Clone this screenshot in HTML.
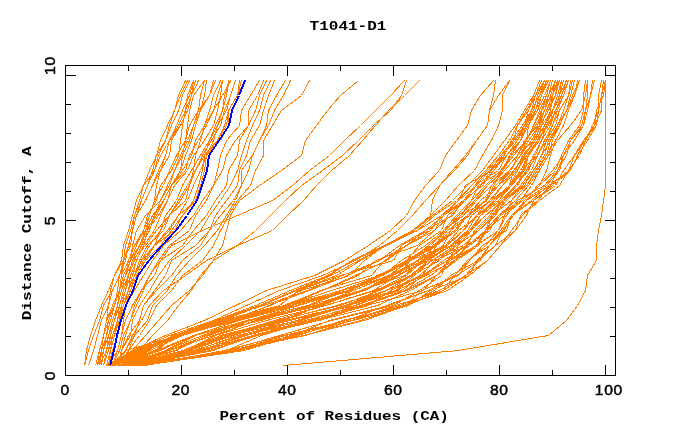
<!DOCTYPE html>
<html><head><meta charset="utf-8"><title>T1041-D1</title>
<style>
html,body{margin:0;padding:0;background:#fff;}
body{width:680px;height:440px;overflow:hidden;font-family:"Liberation Sans",sans-serif;}
svg{display:block;}
</style></head><body>
<svg width="680" height="440" viewBox="0 0 680 440">
<rect width="680" height="440" fill="#fff"/>
<g fill="none" stroke-linejoin="miter" stroke-linecap="butt" shape-rendering="crispEdges">
<polyline points="283.5,365.5 458.5,350.5 548.5,335.5 566.5,320.5 577.5,305.5 585.5,290.5 587.5,275.5 596.5,260.5 596.5,245.5 598.5,230.5 601.5,215.5 603.5,200.5 605.5,185.5 605.5,170.5 605.5,155.5 605.5,140.5 605.5,125.5 605.5,110.5 605.5,95.5 605.5,80.5" stroke="#ff8000" stroke-width="1"/>
<polyline points="119.5,365.5 149.5,350.5 182.5,335.5 233.5,320.5 292.5,305.5 340.5,290.5 382.5,275.5 401.5,260.5 425.5,245.5 443.5,230.5 456.5,215.5 471.5,200.5 485.5,185.5 500.5,170.5 511.5,155.5 520.5,140.5 528.5,125.5 535.5,110.5 541.5,95.5 548.5,80.5" stroke="#ff8000" stroke-width="1"/>
<polyline points="112.5,365.5 158.5,350.5 171.5,335.5 235.5,320.5 290.5,305.5 340.5,290.5 382.5,275.5 410.5,260.5 434.5,245.5 445.5,230.5 460.5,215.5 474.5,200.5 487.5,185.5 502.5,170.5 511.5,155.5 526.5,140.5 528.5,125.5 537.5,110.5 541.5,95.5 546.5,80.5" stroke="#ff8000" stroke-width="1"/>
<polyline points="119.5,365.5 145.5,350.5 180.5,335.5 224.5,320.5 285.5,305.5 331.5,290.5 379.5,275.5 410.5,260.5 436.5,245.5 443.5,230.5 463.5,215.5 476.5,200.5 487.5,185.5 504.5,170.5 517.5,155.5 533.5,140.5 537.5,125.5 541.5,110.5 546.5,95.5 550.5,80.5" stroke="#ff8000" stroke-width="1"/>
<polyline points="117.5,365.5 160.5,350.5 193.5,335.5 239.5,320.5 296.5,305.5 351.5,290.5 379.5,275.5 406.5,260.5 436.5,245.5 450.5,230.5 460.5,215.5 487.5,200.5 493.5,185.5 502.5,170.5 513.5,155.5 526.5,140.5 533.5,125.5 539.5,110.5 546.5,95.5 550.5,80.5" stroke="#ff8000" stroke-width="1"/>
<polyline points="121.5,365.5 156.5,350.5 193.5,335.5 239.5,320.5 290.5,305.5 353.5,290.5 390.5,275.5 408.5,260.5 428.5,245.5 445.5,230.5 458.5,215.5 476.5,200.5 491.5,185.5 504.5,170.5 517.5,155.5 524.5,140.5 537.5,125.5 544.5,110.5 548.5,95.5 552.5,80.5" stroke="#ff8000" stroke-width="1"/>
<polyline points="117.5,365.5 167.5,350.5 195.5,335.5 248.5,320.5 298.5,305.5 349.5,290.5 377.5,275.5 408.5,260.5 432.5,245.5 454.5,230.5 467.5,215.5 480.5,200.5 498.5,185.5 511.5,170.5 517.5,155.5 526.5,140.5 533.5,125.5 541.5,110.5 548.5,95.5 552.5,80.5" stroke="#ff8000" stroke-width="1"/>
<polyline points="119.5,365.5 165.5,350.5 195.5,335.5 246.5,320.5 307.5,305.5 342.5,290.5 390.5,275.5 417.5,260.5 436.5,245.5 447.5,230.5 467.5,215.5 480.5,200.5 498.5,185.5 509.5,170.5 520.5,155.5 526.5,140.5 535.5,125.5 544.5,110.5 548.5,95.5 555.5,80.5" stroke="#ff8000" stroke-width="1"/>
<polyline points="117.5,365.5 169.5,350.5 206.5,335.5 248.5,320.5 307.5,305.5 347.5,290.5 388.5,275.5 410.5,260.5 436.5,245.5 456.5,230.5 467.5,215.5 485.5,200.5 495.5,185.5 509.5,170.5 520.5,155.5 528.5,140.5 539.5,125.5 541.5,110.5 552.5,95.5 555.5,80.5" stroke="#ff8000" stroke-width="1"/>
<polyline points="119.5,365.5 158.5,350.5 193.5,335.5 261.5,320.5 309.5,305.5 360.5,290.5 397.5,275.5 428.5,260.5 436.5,245.5 456.5,230.5 467.5,215.5 485.5,200.5 491.5,185.5 509.5,170.5 520.5,155.5 531.5,140.5 539.5,125.5 544.5,110.5 550.5,95.5 555.5,80.5" stroke="#ff8000" stroke-width="1"/>
<polyline points="119.5,365.5 165.5,350.5 202.5,335.5 250.5,320.5 314.5,305.5 362.5,290.5 393.5,275.5 417.5,260.5 443.5,245.5 450.5,230.5 469.5,215.5 485.5,200.5 498.5,185.5 515.5,170.5 522.5,155.5 535.5,140.5 539.5,125.5 548.5,110.5 555.5,95.5 559.5,80.5" stroke="#ff8000" stroke-width="1"/>
<polyline points="119.5,365.5 174.5,350.5 209.5,335.5 250.5,320.5 316.5,305.5 353.5,290.5 388.5,275.5 419.5,260.5 434.5,245.5 456.5,230.5 467.5,215.5 491.5,200.5 502.5,185.5 517.5,170.5 524.5,155.5 535.5,140.5 544.5,125.5 550.5,110.5 552.5,95.5 559.5,80.5" stroke="#ff8000" stroke-width="1"/>
<polyline points="123.5,365.5 176.5,350.5 204.5,335.5 250.5,320.5 322.5,305.5 360.5,290.5 399.5,275.5 417.5,260.5 447.5,245.5 463.5,230.5 476.5,215.5 489.5,200.5 502.5,185.5 513.5,170.5 524.5,155.5 533.5,140.5 541.5,125.5 546.5,110.5 555.5,95.5 557.5,80.5" stroke="#ff8000" stroke-width="1"/>
<polyline points="121.5,365.5 167.5,350.5 213.5,335.5 255.5,320.5 318.5,305.5 364.5,290.5 397.5,275.5 410.5,260.5 445.5,245.5 463.5,230.5 471.5,215.5 491.5,200.5 509.5,185.5 522.5,170.5 528.5,155.5 537.5,140.5 541.5,125.5 546.5,110.5 552.5,95.5 557.5,80.5" stroke="#ff8000" stroke-width="1"/>
<polyline points="123.5,365.5 169.5,350.5 213.5,335.5 257.5,320.5 318.5,305.5 362.5,290.5 390.5,275.5 423.5,260.5 445.5,245.5 458.5,230.5 478.5,215.5 493.5,200.5 509.5,185.5 517.5,170.5 526.5,155.5 537.5,140.5 546.5,125.5 552.5,110.5 557.5,95.5 561.5,80.5" stroke="#ff8000" stroke-width="1"/>
<polyline points="123.5,365.5 185.5,350.5 215.5,335.5 266.5,320.5 325.5,305.5 373.5,290.5 397.5,275.5 425.5,260.5 450.5,245.5 467.5,230.5 476.5,215.5 498.5,200.5 511.5,185.5 522.5,170.5 526.5,155.5 537.5,140.5 541.5,125.5 552.5,110.5 559.5,95.5 561.5,80.5" stroke="#ff8000" stroke-width="1"/>
<polyline points="125.5,365.5 182.5,350.5 224.5,335.5 283.5,320.5 320.5,305.5 360.5,290.5 404.5,275.5 421.5,260.5 445.5,245.5 463.5,230.5 476.5,215.5 495.5,200.5 509.5,185.5 513.5,170.5 526.5,155.5 539.5,140.5 544.5,125.5 552.5,110.5 559.5,95.5 563.5,80.5" stroke="#ff8000" stroke-width="1"/>
<polyline points="130.5,365.5 182.5,350.5 220.5,335.5 279.5,320.5 336.5,305.5 386.5,290.5 412.5,275.5 428.5,260.5 447.5,245.5 463.5,230.5 476.5,215.5 495.5,200.5 509.5,185.5 520.5,170.5 528.5,155.5 537.5,140.5 546.5,125.5 552.5,110.5 559.5,95.5 561.5,80.5" stroke="#ff8000" stroke-width="1"/>
<polyline points="130.5,365.5 182.5,350.5 224.5,335.5 274.5,320.5 325.5,305.5 375.5,290.5 406.5,275.5 423.5,260.5 452.5,245.5 469.5,230.5 480.5,215.5 493.5,200.5 511.5,185.5 524.5,170.5 528.5,155.5 537.5,140.5 548.5,125.5 555.5,110.5 561.5,95.5 568.5,80.5" stroke="#ff8000" stroke-width="1"/>
<polyline points="130.5,365.5 189.5,350.5 233.5,335.5 276.5,320.5 340.5,305.5 379.5,290.5 412.5,275.5 439.5,260.5 456.5,245.5 469.5,230.5 480.5,215.5 495.5,200.5 511.5,185.5 520.5,170.5 528.5,155.5 539.5,140.5 544.5,125.5 552.5,110.5 559.5,95.5 566.5,80.5" stroke="#ff8000" stroke-width="1"/>
<polyline points="128.5,365.5 189.5,350.5 224.5,335.5 290.5,320.5 347.5,305.5 377.5,290.5 410.5,275.5 432.5,260.5 454.5,245.5 471.5,230.5 480.5,215.5 500.5,200.5 515.5,185.5 528.5,170.5 535.5,155.5 541.5,140.5 550.5,125.5 552.5,110.5 561.5,95.5 566.5,80.5" stroke="#ff8000" stroke-width="1"/>
<polyline points="132.5,365.5 187.5,350.5 230.5,335.5 285.5,320.5 355.5,305.5 386.5,290.5 410.5,275.5 428.5,260.5 450.5,245.5 469.5,230.5 485.5,215.5 502.5,200.5 517.5,185.5 526.5,170.5 533.5,155.5 541.5,140.5 546.5,125.5 557.5,110.5 563.5,95.5 568.5,80.5" stroke="#ff8000" stroke-width="1"/>
<polyline points="125.5,365.5 185.5,350.5 228.5,335.5 298.5,320.5 344.5,305.5 386.5,290.5 421.5,275.5 434.5,260.5 467.5,245.5 474.5,230.5 489.5,215.5 500.5,200.5 517.5,185.5 522.5,170.5 535.5,155.5 541.5,140.5 550.5,125.5 555.5,110.5 563.5,95.5 568.5,80.5" stroke="#ff8000" stroke-width="1"/>
<polyline points="128.5,365.5 195.5,350.5 237.5,335.5 298.5,320.5 349.5,305.5 386.5,290.5 423.5,275.5 447.5,260.5 458.5,245.5 471.5,230.5 485.5,215.5 504.5,200.5 515.5,185.5 526.5,170.5 537.5,155.5 544.5,140.5 552.5,125.5 557.5,110.5 563.5,95.5 568.5,80.5" stroke="#ff8000" stroke-width="1"/>
<polyline points="132.5,365.5 200.5,350.5 244.5,335.5 296.5,320.5 344.5,305.5 395.5,290.5 419.5,275.5 436.5,260.5 456.5,245.5 478.5,230.5 495.5,215.5 504.5,200.5 520.5,185.5 531.5,170.5 537.5,155.5 546.5,140.5 552.5,125.5 559.5,110.5 568.5,95.5 570.5,80.5" stroke="#ff8000" stroke-width="1"/>
<polyline points="132.5,365.5 200.5,350.5 246.5,335.5 285.5,320.5 347.5,305.5 395.5,290.5 414.5,275.5 430.5,260.5 463.5,245.5 478.5,230.5 493.5,215.5 506.5,200.5 522.5,185.5 533.5,170.5 541.5,155.5 546.5,140.5 555.5,125.5 559.5,110.5 568.5,95.5 572.5,80.5" stroke="#ff8000" stroke-width="1"/>
<polyline points="132.5,365.5 193.5,350.5 241.5,335.5 314.5,320.5 364.5,305.5 406.5,290.5 421.5,275.5 447.5,260.5 465.5,245.5 476.5,230.5 491.5,215.5 502.5,200.5 526.5,185.5 535.5,170.5 546.5,155.5 550.5,140.5 557.5,125.5 563.5,110.5 568.5,95.5 570.5,80.5" stroke="#ff8000" stroke-width="1"/>
<polyline points="132.5,365.5 198.5,350.5 246.5,335.5 301.5,320.5 347.5,305.5 401.5,290.5 423.5,275.5 443.5,260.5 467.5,245.5 487.5,230.5 491.5,215.5 502.5,200.5 524.5,185.5 533.5,170.5 544.5,155.5 548.5,140.5 557.5,125.5 566.5,110.5 570.5,95.5 574.5,80.5" stroke="#ff8000" stroke-width="1"/>
<polyline points="134.5,365.5 202.5,350.5 252.5,335.5 309.5,320.5 355.5,305.5 397.5,290.5 425.5,275.5 454.5,260.5 467.5,245.5 485.5,230.5 491.5,215.5 511.5,200.5 522.5,185.5 533.5,170.5 541.5,155.5 550.5,140.5 557.5,125.5 566.5,110.5 570.5,95.5 574.5,80.5" stroke="#ff8000" stroke-width="1"/>
<polyline points="139.5,365.5 226.5,350.5 261.5,335.5 312.5,320.5 368.5,305.5 390.5,290.5 423.5,275.5 447.5,260.5 463.5,245.5 478.5,230.5 493.5,215.5 502.5,200.5 522.5,185.5 533.5,170.5 541.5,155.5 550.5,140.5 559.5,125.5 566.5,110.5 572.5,95.5 579.5,80.5" stroke="#ff8000" stroke-width="1"/>
<polyline points="134.5,365.5 204.5,350.5 255.5,335.5 305.5,320.5 360.5,305.5 404.5,290.5 430.5,275.5 450.5,260.5 476.5,245.5 485.5,230.5 504.5,215.5 511.5,200.5 526.5,185.5 537.5,170.5 546.5,155.5 555.5,140.5 563.5,125.5 568.5,110.5 574.5,95.5 577.5,80.5" stroke="#ff8000" stroke-width="1"/>
<polyline points="134.5,365.5 209.5,350.5 257.5,335.5 312.5,320.5 362.5,305.5 406.5,290.5 436.5,275.5 450.5,260.5 469.5,245.5 489.5,230.5 498.5,215.5 520.5,200.5 531.5,185.5 539.5,170.5 548.5,155.5 552.5,140.5 559.5,125.5 566.5,110.5 574.5,95.5 579.5,80.5" stroke="#ff8000" stroke-width="1"/>
<polyline points="134.5,365.5 213.5,350.5 252.5,335.5 316.5,320.5 366.5,305.5 423.5,290.5 436.5,275.5 456.5,260.5 478.5,245.5 485.5,230.5 498.5,215.5 515.5,200.5 528.5,185.5 539.5,170.5 548.5,155.5 557.5,140.5 570.5,125.5 581.5,110.5 585.5,95.5 587.5,80.5" stroke="#ff8000" stroke-width="1"/>
<polyline points="139.5,365.5 211.5,350.5 255.5,335.5 318.5,320.5 377.5,305.5 410.5,290.5 436.5,275.5 454.5,260.5 476.5,245.5 498.5,230.5 504.5,215.5 522.5,200.5 539.5,185.5 546.5,170.5 550.5,155.5 555.5,140.5 563.5,125.5 568.5,110.5 574.5,95.5 579.5,80.5" stroke="#ff8000" stroke-width="1"/>
<polyline points="141.5,365.5 228.5,350.5 279.5,335.5 331.5,320.5 393.5,305.5 419.5,290.5 441.5,275.5 447.5,260.5 476.5,245.5 487.5,230.5 500.5,215.5 522.5,200.5 539.5,185.5 555.5,170.5 561.5,155.5 568.5,140.5 579.5,125.5 583.5,110.5 583.5,95.5 585.5,80.5" stroke="#ff8000" stroke-width="1"/>
<polyline points="136.5,365.5 230.5,350.5 292.5,335.5 329.5,320.5 388.5,305.5 428.5,290.5 454.5,275.5 469.5,260.5 485.5,245.5 498.5,230.5 506.5,215.5 517.5,200.5 544.5,185.5 557.5,170.5 563.5,155.5 574.5,140.5 583.5,125.5 585.5,110.5 587.5,95.5 587.5,80.5" stroke="#ff8000" stroke-width="1"/>
<polyline points="145.5,365.5 224.5,350.5 283.5,335.5 347.5,320.5 386.5,305.5 428.5,290.5 456.5,275.5 480.5,260.5 489.5,245.5 500.5,230.5 511.5,215.5 526.5,200.5 537.5,185.5 552.5,170.5 563.5,155.5 570.5,140.5 583.5,125.5 587.5,110.5 590.5,95.5 594.5,80.5" stroke="#ff8000" stroke-width="1"/>
<polyline points="143.5,365.5 244.5,350.5 294.5,335.5 351.5,320.5 395.5,305.5 443.5,290.5 454.5,275.5 467.5,260.5 489.5,245.5 502.5,230.5 513.5,215.5 524.5,200.5 546.5,185.5 559.5,170.5 563.5,155.5 570.5,140.5 583.5,125.5 585.5,110.5 590.5,95.5 592.5,80.5" stroke="#ff8000" stroke-width="1"/>
<polyline points="139.5,365.5 239.5,350.5 290.5,335.5 344.5,320.5 406.5,305.5 421.5,290.5 458.5,275.5 469.5,260.5 482.5,245.5 506.5,230.5 511.5,215.5 533.5,200.5 552.5,185.5 570.5,170.5 577.5,155.5 587.5,140.5 596.5,125.5 598.5,110.5 601.5,95.5 603.5,80.5" stroke="#ff8000" stroke-width="1"/>
<polyline points="143.5,365.5 230.5,350.5 305.5,335.5 351.5,320.5 399.5,305.5 439.5,290.5 465.5,275.5 478.5,260.5 495.5,245.5 502.5,230.5 513.5,215.5 526.5,200.5 550.5,185.5 557.5,170.5 566.5,155.5 570.5,140.5 581.5,125.5 585.5,110.5 590.5,95.5 592.5,80.5" stroke="#ff8000" stroke-width="1"/>
<polyline points="141.5,365.5 233.5,350.5 285.5,335.5 353.5,320.5 408.5,305.5 430.5,290.5 469.5,275.5 476.5,260.5 495.5,245.5 515.5,230.5 520.5,215.5 537.5,200.5 550.5,185.5 568.5,170.5 574.5,155.5 585.5,140.5 592.5,125.5 598.5,110.5 598.5,95.5 601.5,80.5" stroke="#ff8000" stroke-width="1"/>
<polyline points="145.5,365.5 235.5,350.5 298.5,335.5 342.5,320.5 404.5,305.5 434.5,290.5 450.5,275.5 478.5,260.5 489.5,245.5 504.5,230.5 511.5,215.5 531.5,200.5 548.5,185.5 570.5,170.5 577.5,155.5 583.5,140.5 594.5,125.5 601.5,110.5 601.5,95.5 605.5,80.5" stroke="#ff8000" stroke-width="1"/>
<polyline points="143.5,365.5 233.5,350.5 303.5,335.5 364.5,320.5 406.5,305.5 443.5,290.5 465.5,275.5 487.5,260.5 500.5,245.5 515.5,230.5 526.5,215.5 533.5,200.5 555.5,185.5 563.5,170.5 574.5,155.5 583.5,140.5 596.5,125.5 598.5,110.5 601.5,95.5 603.5,80.5" stroke="#ff8000" stroke-width="1"/>
<polyline points="143.5,365.5 237.5,350.5 303.5,335.5 360.5,320.5 404.5,305.5 447.5,290.5 469.5,275.5 487.5,260.5 500.5,245.5 511.5,230.5 522.5,215.5 539.5,200.5 559.5,185.5 568.5,170.5 579.5,155.5 585.5,140.5 594.5,125.5 596.5,110.5 603.5,95.5 605.5,80.5" stroke="#ff8000" stroke-width="1"/>
<polyline points="108.5,365.5 134.5,350.5 176.5,335.5 228.5,320.5 270.5,305.5 301.5,290.5 349.5,275.5 364.5,260.5 384.5,245.5 417.5,230.5 441.5,215.5 458.5,200.5 465.5,185.5 491.5,170.5 500.5,155.5 513.5,140.5 524.5,125.5 528.5,110.5 535.5,95.5 541.5,80.5" stroke="#ff8000" stroke-width="1"/>
<polyline points="110.5,365.5 125.5,350.5 178.5,335.5 215.5,320.5 263.5,305.5 307.5,290.5 342.5,275.5 379.5,260.5 406.5,245.5 434.5,230.5 443.5,215.5 465.5,200.5 474.5,185.5 487.5,170.5 504.5,155.5 511.5,140.5 522.5,125.5 531.5,110.5 539.5,95.5 544.5,80.5" stroke="#ff8000" stroke-width="1"/>
<polyline points="114.5,365.5 147.5,350.5 176.5,335.5 233.5,320.5 268.5,305.5 309.5,290.5 347.5,275.5 379.5,260.5 399.5,245.5 425.5,230.5 443.5,215.5 458.5,200.5 471.5,185.5 485.5,170.5 502.5,155.5 513.5,140.5 517.5,125.5 528.5,110.5 533.5,95.5 539.5,80.5" stroke="#ff8000" stroke-width="1"/>
<polyline points="112.5,365.5 156.5,350.5 176.5,335.5 222.5,320.5 279.5,305.5 298.5,290.5 340.5,275.5 393.5,260.5 401.5,245.5 428.5,230.5 443.5,215.5 458.5,200.5 476.5,185.5 489.5,170.5 506.5,155.5 517.5,140.5 524.5,125.5 531.5,110.5 535.5,95.5 544.5,80.5" stroke="#ff8000" stroke-width="1"/>
<polyline points="112.5,365.5 139.5,350.5 176.5,335.5 239.5,320.5 285.5,305.5 320.5,290.5 371.5,275.5 384.5,260.5 406.5,245.5 425.5,230.5 452.5,215.5 463.5,200.5 476.5,185.5 489.5,170.5 502.5,155.5 515.5,140.5 524.5,125.5 533.5,110.5 537.5,95.5 544.5,80.5" stroke="#ff8000" stroke-width="1"/>
<polyline points="114.5,365.5 154.5,350.5 178.5,335.5 226.5,320.5 283.5,305.5 322.5,290.5 355.5,275.5 386.5,260.5 406.5,245.5 430.5,230.5 441.5,215.5 463.5,200.5 482.5,185.5 493.5,170.5 506.5,155.5 517.5,140.5 526.5,125.5 535.5,110.5 539.5,95.5 546.5,80.5" stroke="#ff8000" stroke-width="1"/>
<polyline points="112.5,365.5 143.5,350.5 182.5,335.5 230.5,320.5 287.5,305.5 322.5,290.5 358.5,275.5 375.5,260.5 417.5,245.5 434.5,230.5 450.5,215.5 465.5,200.5 474.5,185.5 498.5,170.5 506.5,155.5 520.5,140.5 526.5,125.5 535.5,110.5 539.5,95.5 548.5,80.5" stroke="#ff8000" stroke-width="1"/>
<polyline points="114.5,365.5 143.5,350.5 176.5,335.5 226.5,320.5 285.5,305.5 342.5,290.5 379.5,275.5 406.5,260.5 419.5,245.5 441.5,230.5 447.5,215.5 465.5,200.5 480.5,185.5 491.5,170.5 506.5,155.5 520.5,140.5 524.5,125.5 535.5,110.5 541.5,95.5 546.5,80.5" stroke="#ff8000" stroke-width="1"/>
<polyline points="110.5,365.5 141.5,350.5 176.5,335.5 226.5,320.5 290.5,305.5 347.5,290.5 382.5,275.5 406.5,260.5 430.5,245.5 445.5,230.5 460.5,215.5 471.5,200.5 478.5,185.5 502.5,170.5 509.5,155.5 520.5,140.5 528.5,125.5 537.5,110.5 544.5,95.5 550.5,80.5" stroke="#ff8000" stroke-width="1"/>
<polyline points="106.5,365.5 132.5,350.5 165.5,335.5 204.5,320.5 235.5,305.5 266.5,290.5 314.5,275.5 344.5,260.5 368.5,245.5 390.5,230.5 406.5,215.5 414.5,200.5 425.5,185.5 439.5,170.5 445.5,155.5 456.5,140.5 467.5,125.5 471.5,110.5 480.5,95.5 493.5,80.5" stroke="#ff8000" stroke-width="1"/>
<polyline points="106.5,365.5 134.5,350.5 169.5,335.5 213.5,320.5 246.5,305.5 279.5,290.5 322.5,275.5 355.5,260.5 379.5,245.5 397.5,230.5 412.5,215.5 425.5,200.5 439.5,185.5 454.5,170.5 467.5,155.5 476.5,140.5 487.5,125.5 489.5,110.5 498.5,95.5 509.5,80.5" stroke="#ff8000" stroke-width="1"/>
<polyline points="108.5,365.5 136.5,350.5 174.5,335.5 215.5,320.5 255.5,305.5 290.5,290.5 327.5,275.5 353.5,260.5 386.5,245.5 414.5,230.5 430.5,215.5 432.5,200.5 439.5,185.5 452.5,170.5 465.5,155.5 476.5,140.5 487.5,125.5 489.5,110.5 493.5,95.5 495.5,80.5" stroke="#ff8000" stroke-width="1"/>
<polyline points="108.5,365.5 136.5,350.5 176.5,335.5 217.5,320.5 259.5,305.5 294.5,290.5 329.5,275.5 351.5,260.5 384.5,245.5 412.5,230.5 430.5,215.5 445.5,200.5 458.5,185.5 474.5,170.5 482.5,155.5 491.5,140.5 498.5,125.5 502.5,110.5 502.5,95.5 509.5,80.5" stroke="#ff8000" stroke-width="1"/>
<polyline points="108.5,365.5 139.5,350.5 176.5,335.5 220.5,320.5 259.5,305.5 294.5,290.5 331.5,275.5 358.5,260.5 386.5,245.5 414.5,230.5 432.5,215.5 452.5,200.5 467.5,185.5 482.5,170.5 493.5,155.5 504.5,140.5 515.5,125.5 524.5,110.5 533.5,95.5 539.5,80.5" stroke="#ff8000" stroke-width="1"/>
<polyline points="110.5,365.5 139.5,350.5 178.5,335.5 222.5,320.5 261.5,305.5 296.5,290.5 336.5,275.5 360.5,260.5 386.5,245.5 417.5,230.5 434.5,215.5 456.5,200.5 471.5,185.5 485.5,170.5 498.5,155.5 509.5,140.5 517.5,125.5 526.5,110.5 535.5,95.5 541.5,80.5" stroke="#ff8000" stroke-width="1"/>
<polyline points="97.5,365.5 99.5,350.5 103.5,335.5 106.5,320.5 108.5,305.5 110.5,290.5 114.5,275.5 123.5,260.5 125.5,245.5 130.5,230.5 134.5,215.5 139.5,200.5 143.5,185.5 154.5,170.5 160.5,155.5 169.5,140.5 180.5,125.5 187.5,110.5 191.5,95.5 193.5,80.5" stroke="#ff8000" stroke-width="1"/>
<polyline points="97.5,365.5 103.5,350.5 106.5,335.5 108.5,320.5 114.5,305.5 119.5,290.5 121.5,275.5 123.5,260.5 130.5,245.5 132.5,230.5 136.5,215.5 141.5,200.5 147.5,185.5 152.5,170.5 156.5,155.5 165.5,140.5 169.5,125.5 174.5,110.5 180.5,95.5 187.5,80.5" stroke="#ff8000" stroke-width="1"/>
<polyline points="97.5,365.5 101.5,350.5 103.5,335.5 106.5,320.5 114.5,305.5 117.5,290.5 119.5,275.5 125.5,260.5 128.5,245.5 132.5,230.5 136.5,215.5 145.5,200.5 152.5,185.5 160.5,170.5 169.5,155.5 171.5,140.5 180.5,125.5 187.5,110.5 191.5,95.5 198.5,80.5" stroke="#ff8000" stroke-width="1"/>
<polyline points="95.5,365.5 99.5,350.5 103.5,335.5 106.5,320.5 112.5,305.5 119.5,290.5 121.5,275.5 128.5,260.5 134.5,245.5 143.5,230.5 149.5,215.5 154.5,200.5 156.5,185.5 160.5,170.5 165.5,155.5 169.5,140.5 178.5,125.5 185.5,110.5 191.5,95.5 195.5,80.5" stroke="#ff8000" stroke-width="1"/>
<polyline points="97.5,365.5 99.5,350.5 103.5,335.5 108.5,320.5 114.5,305.5 119.5,290.5 125.5,275.5 130.5,260.5 136.5,245.5 143.5,230.5 147.5,215.5 156.5,200.5 160.5,185.5 171.5,170.5 178.5,155.5 180.5,140.5 182.5,125.5 185.5,110.5 187.5,95.5 193.5,80.5" stroke="#ff8000" stroke-width="1"/>
<polyline points="97.5,365.5 101.5,350.5 106.5,335.5 110.5,320.5 114.5,305.5 119.5,290.5 125.5,275.5 128.5,260.5 134.5,245.5 145.5,230.5 149.5,215.5 154.5,200.5 163.5,185.5 169.5,170.5 176.5,155.5 185.5,140.5 189.5,125.5 198.5,110.5 200.5,95.5 204.5,80.5" stroke="#ff8000" stroke-width="1"/>
<polyline points="99.5,365.5 106.5,350.5 108.5,335.5 114.5,320.5 117.5,305.5 119.5,290.5 123.5,275.5 130.5,260.5 132.5,245.5 136.5,230.5 145.5,215.5 160.5,200.5 169.5,185.5 174.5,170.5 182.5,155.5 185.5,140.5 187.5,125.5 189.5,110.5 193.5,95.5 204.5,80.5" stroke="#ff8000" stroke-width="1"/>
<polyline points="99.5,365.5 101.5,350.5 106.5,335.5 110.5,320.5 114.5,305.5 119.5,290.5 123.5,275.5 130.5,260.5 139.5,245.5 145.5,230.5 152.5,215.5 163.5,200.5 171.5,185.5 180.5,170.5 185.5,155.5 191.5,140.5 195.5,125.5 200.5,110.5 204.5,95.5 206.5,80.5" stroke="#ff8000" stroke-width="1"/>
<polyline points="101.5,365.5 103.5,350.5 108.5,335.5 112.5,320.5 117.5,305.5 121.5,290.5 125.5,275.5 134.5,260.5 141.5,245.5 149.5,230.5 154.5,215.5 160.5,200.5 167.5,185.5 174.5,170.5 180.5,155.5 187.5,140.5 193.5,125.5 200.5,110.5 209.5,95.5 215.5,80.5" stroke="#ff8000" stroke-width="1"/>
<polyline points="103.5,365.5 108.5,350.5 110.5,335.5 114.5,320.5 117.5,305.5 121.5,290.5 128.5,275.5 132.5,260.5 139.5,245.5 147.5,230.5 154.5,215.5 163.5,200.5 171.5,185.5 180.5,170.5 182.5,155.5 189.5,140.5 193.5,125.5 198.5,110.5 209.5,95.5 213.5,80.5" stroke="#ff8000" stroke-width="1"/>
<polyline points="103.5,365.5 106.5,350.5 110.5,335.5 114.5,320.5 119.5,305.5 123.5,290.5 128.5,275.5 134.5,260.5 141.5,245.5 145.5,230.5 156.5,215.5 163.5,200.5 171.5,185.5 185.5,170.5 189.5,155.5 198.5,140.5 206.5,125.5 213.5,110.5 217.5,95.5 222.5,80.5" stroke="#ff8000" stroke-width="1"/>
<polyline points="106.5,365.5 110.5,350.5 112.5,335.5 117.5,320.5 119.5,305.5 125.5,290.5 130.5,275.5 136.5,260.5 143.5,245.5 147.5,230.5 158.5,215.5 167.5,200.5 171.5,185.5 182.5,170.5 191.5,155.5 195.5,140.5 204.5,125.5 209.5,110.5 213.5,95.5 220.5,80.5" stroke="#ff8000" stroke-width="1"/>
<polyline points="103.5,365.5 108.5,350.5 112.5,335.5 119.5,320.5 123.5,305.5 128.5,290.5 132.5,275.5 136.5,260.5 143.5,245.5 154.5,230.5 160.5,215.5 167.5,200.5 174.5,185.5 187.5,170.5 193.5,155.5 204.5,140.5 213.5,125.5 217.5,110.5 220.5,95.5 222.5,80.5" stroke="#ff8000" stroke-width="1"/>
<polyline points="106.5,365.5 110.5,350.5 114.5,335.5 117.5,320.5 121.5,305.5 125.5,290.5 128.5,275.5 132.5,260.5 145.5,245.5 156.5,230.5 169.5,215.5 185.5,200.5 189.5,185.5 193.5,170.5 195.5,155.5 200.5,140.5 204.5,125.5 213.5,110.5 222.5,95.5 230.5,80.5" stroke="#ff8000" stroke-width="1"/>
<polyline points="106.5,365.5 110.5,350.5 112.5,335.5 117.5,320.5 123.5,305.5 128.5,290.5 134.5,275.5 141.5,260.5 149.5,245.5 160.5,230.5 165.5,215.5 176.5,200.5 182.5,185.5 191.5,170.5 200.5,155.5 209.5,140.5 215.5,125.5 222.5,110.5 224.5,95.5 230.5,80.5" stroke="#ff8000" stroke-width="1"/>
<polyline points="106.5,365.5 110.5,350.5 114.5,335.5 119.5,320.5 121.5,305.5 128.5,290.5 134.5,275.5 139.5,260.5 147.5,245.5 163.5,230.5 169.5,215.5 178.5,200.5 187.5,185.5 195.5,170.5 204.5,155.5 209.5,140.5 217.5,125.5 222.5,110.5 226.5,95.5 228.5,80.5" stroke="#ff8000" stroke-width="1"/>
<polyline points="106.5,365.5 110.5,350.5 114.5,335.5 119.5,320.5 123.5,305.5 128.5,290.5 134.5,275.5 141.5,260.5 154.5,245.5 160.5,230.5 169.5,215.5 180.5,200.5 189.5,185.5 195.5,170.5 202.5,155.5 211.5,140.5 220.5,125.5 224.5,110.5 230.5,95.5 235.5,80.5" stroke="#ff8000" stroke-width="1"/>
<polyline points="108.5,365.5 110.5,350.5 114.5,335.5 119.5,320.5 123.5,305.5 130.5,290.5 134.5,275.5 143.5,260.5 154.5,245.5 167.5,230.5 178.5,215.5 187.5,200.5 193.5,185.5 200.5,170.5 206.5,155.5 213.5,140.5 217.5,125.5 226.5,110.5 230.5,95.5 235.5,80.5" stroke="#ff8000" stroke-width="1"/>
<polyline points="108.5,365.5 110.5,350.5 114.5,335.5 117.5,320.5 121.5,305.5 128.5,290.5 130.5,275.5 145.5,260.5 154.5,245.5 174.5,230.5 182.5,215.5 195.5,200.5 200.5,185.5 204.5,170.5 206.5,155.5 217.5,140.5 226.5,125.5 228.5,110.5 237.5,95.5 239.5,80.5" stroke="#ff8000" stroke-width="1"/>
<polyline points="108.5,365.5 110.5,350.5 114.5,335.5 119.5,320.5 125.5,305.5 130.5,290.5 136.5,275.5 145.5,260.5 160.5,245.5 171.5,230.5 182.5,215.5 193.5,200.5 198.5,185.5 202.5,170.5 204.5,155.5 217.5,140.5 224.5,125.5 228.5,110.5 237.5,95.5 241.5,80.5" stroke="#ff8000" stroke-width="1"/>
<polyline points="108.5,365.5 112.5,350.5 117.5,335.5 119.5,320.5 125.5,305.5 130.5,290.5 136.5,275.5 145.5,260.5 154.5,245.5 169.5,230.5 178.5,215.5 195.5,200.5 200.5,185.5 204.5,170.5 206.5,155.5 220.5,140.5 228.5,125.5 228.5,110.5 237.5,95.5 244.5,80.5" stroke="#ff8000" stroke-width="1"/>
<polyline points="84.5,365.5 86.5,350.5 90.5,335.5 95.5,320.5 101.5,305.5 108.5,290.5 114.5,275.5 121.5,260.5 123.5,245.5 128.5,230.5 132.5,215.5 136.5,200.5 143.5,185.5 149.5,170.5 156.5,155.5 160.5,140.5 167.5,125.5 174.5,110.5 178.5,95.5 185.5,80.5" stroke="#ff8000" stroke-width="1"/>
<polyline points="84.5,365.5 88.5,350.5 93.5,335.5 99.5,320.5 103.5,305.5 112.5,290.5 119.5,275.5 123.5,260.5 128.5,245.5 132.5,230.5 134.5,215.5 141.5,200.5 147.5,185.5 154.5,170.5 158.5,155.5 165.5,140.5 171.5,125.5 178.5,110.5 182.5,95.5 189.5,80.5" stroke="#ff8000" stroke-width="1"/>
<polyline points="88.5,365.5 93.5,350.5 97.5,335.5 101.5,320.5 108.5,305.5 112.5,290.5 119.5,275.5 123.5,260.5 128.5,245.5 132.5,230.5 136.5,215.5 145.5,200.5 152.5,185.5 158.5,170.5 165.5,155.5 169.5,140.5 176.5,125.5 182.5,110.5 189.5,95.5 193.5,80.5" stroke="#ff8000" stroke-width="1"/>
<polyline points="108.5,365.5 117.5,350.5 121.5,335.5 123.5,320.5 125.5,305.5 134.5,290.5 143.5,275.5 152.5,260.5 163.5,245.5 180.5,230.5 193.5,215.5 202.5,200.5 213.5,185.5 217.5,170.5 220.5,155.5 226.5,140.5 239.5,125.5 241.5,110.5 250.5,95.5 259.5,80.5" stroke="#ff8000" stroke-width="1"/>
<polyline points="112.5,365.5 117.5,350.5 121.5,335.5 125.5,320.5 132.5,305.5 141.5,290.5 149.5,275.5 158.5,260.5 169.5,245.5 189.5,230.5 195.5,215.5 206.5,200.5 213.5,185.5 222.5,170.5 226.5,155.5 235.5,140.5 248.5,125.5 248.5,110.5 257.5,95.5 263.5,80.5" stroke="#ff8000" stroke-width="1"/>
<polyline points="112.5,365.5 119.5,350.5 123.5,335.5 130.5,320.5 134.5,305.5 141.5,290.5 154.5,275.5 160.5,260.5 182.5,245.5 193.5,230.5 206.5,215.5 215.5,200.5 226.5,185.5 228.5,170.5 237.5,155.5 239.5,140.5 248.5,125.5 255.5,110.5 259.5,95.5 266.5,80.5" stroke="#ff8000" stroke-width="1"/>
<polyline points="117.5,365.5 121.5,350.5 130.5,335.5 132.5,320.5 139.5,305.5 149.5,290.5 158.5,275.5 169.5,260.5 185.5,245.5 200.5,230.5 209.5,215.5 220.5,200.5 230.5,185.5 237.5,170.5 241.5,155.5 246.5,140.5 252.5,125.5 259.5,110.5 263.5,95.5 270.5,80.5" stroke="#ff8000" stroke-width="1"/>
<polyline points="119.5,365.5 121.5,350.5 128.5,335.5 139.5,320.5 143.5,305.5 154.5,290.5 165.5,275.5 171.5,260.5 195.5,245.5 209.5,230.5 215.5,215.5 226.5,200.5 237.5,185.5 239.5,170.5 246.5,155.5 250.5,140.5 259.5,125.5 263.5,110.5 268.5,95.5 274.5,80.5" stroke="#ff8000" stroke-width="1"/>
<polyline points="114.5,365.5 125.5,350.5 134.5,335.5 139.5,320.5 143.5,305.5 156.5,290.5 171.5,275.5 182.5,260.5 200.5,245.5 209.5,230.5 220.5,215.5 233.5,200.5 241.5,185.5 241.5,170.5 252.5,155.5 259.5,140.5 266.5,125.5 268.5,110.5 276.5,95.5 285.5,80.5" stroke="#ff8000" stroke-width="1"/>
<polyline points="121.5,365.5 128.5,350.5 134.5,335.5 147.5,320.5 152.5,305.5 167.5,290.5 176.5,275.5 189.5,260.5 204.5,245.5 217.5,230.5 226.5,215.5 235.5,200.5 241.5,185.5 248.5,170.5 252.5,155.5 259.5,140.5 268.5,125.5 274.5,110.5 283.5,95.5 290.5,80.5" stroke="#ff8000" stroke-width="1"/>
<polyline points="117.5,365.5 128.5,350.5 139.5,335.5 149.5,320.5 156.5,305.5 171.5,290.5 182.5,275.5 202.5,260.5 213.5,245.5 220.5,230.5 228.5,215.5 237.5,200.5 250.5,185.5 255.5,170.5 263.5,155.5 263.5,140.5 272.5,125.5 281.5,110.5 301.5,95.5 309.5,80.5" stroke="#ff8000" stroke-width="1"/>
<polyline points="121.5,365.5 132.5,350.5 145.5,335.5 158.5,320.5 171.5,305.5 189.5,290.5 202.5,275.5 213.5,260.5 222.5,245.5 226.5,230.5 230.5,215.5 239.5,200.5 259.5,185.5 281.5,170.5 301.5,155.5 305.5,140.5 316.5,125.5 327.5,110.5 340.5,95.5 358.5,80.5" stroke="#ff8000" stroke-width="1"/>
<polyline points="117.5,365.5 121.5,350.5 125.5,335.5 130.5,320.5 136.5,305.5 143.5,290.5 149.5,275.5 160.5,260.5 171.5,245.5 202.5,230.5 237.5,215.5 272.5,200.5 292.5,185.5 309.5,170.5 329.5,155.5 344.5,140.5 360.5,125.5 375.5,110.5 390.5,95.5 404.5,80.5" stroke="#ff8000" stroke-width="1"/>
<polyline points="119.5,365.5 125.5,350.5 132.5,335.5 141.5,320.5 149.5,305.5 163.5,290.5 185.5,275.5 206.5,260.5 237.5,245.5 255.5,230.5 270.5,215.5 285.5,200.5 301.5,185.5 322.5,170.5 342.5,155.5 358.5,140.5 373.5,125.5 390.5,110.5 401.5,95.5 406.5,80.5" stroke="#ff8000" stroke-width="1"/>
<polyline points="125.5,365.5 139.5,350.5 152.5,335.5 167.5,320.5 178.5,305.5 191.5,290.5 200.5,275.5 213.5,260.5 237.5,245.5 272.5,230.5 287.5,215.5 303.5,200.5 316.5,185.5 331.5,170.5 349.5,155.5 362.5,140.5 375.5,125.5 388.5,110.5 404.5,95.5 419.5,80.5" stroke="#ff8000" stroke-width="1"/>
</g>
<polyline points="109.5,365.5 113.5,350.5 116.5,335.5 120.5,320.5 125.5,305.5 132.5,290.5 137.5,275.5 148.5,260.5 161.5,245.5 175.5,230.5 186.5,215.5 196.5,200.5 201.5,185.5 206.5,170.5 208.5,155.5 218.5,140.5 228.5,125.5 231.5,110.5 238.5,95.5 244.5,80.5" fill="none" stroke="#0000ff" stroke-width="1" shape-rendering="crispEdges"/>
<polyline points="110.5,365.5 114.5,350.5 117.5,335.5 121.5,320.5 126.5,305.5 133.5,290.5 138.5,275.5 149.5,260.5 162.5,245.5 176.5,230.5 187.5,215.5 197.5,200.5 202.5,185.5 207.5,170.5 209.5,155.5 219.5,140.5 229.5,125.5 232.5,110.5 239.5,95.5 245.5,80.5" fill="none" stroke="#0000ff" stroke-width="1" shape-rendering="crispEdges"/>
<g stroke="#000" stroke-width="1" fill="none" shape-rendering="crispEdges">
<rect x="65.5" y="65.5" width="550" height="310"/>
<line x1="128.5" y1="375" x2="128.5" y2="370"/>
<line x1="128.5" y1="66" x2="128.5" y2="71"/>
<line x1="181.5" y1="375" x2="181.5" y2="365"/>
<line x1="181.5" y1="66" x2="181.5" y2="76"/>
<line x1="234.5" y1="375" x2="234.5" y2="370"/>
<line x1="234.5" y1="66" x2="234.5" y2="71"/>
<line x1="287.5" y1="375" x2="287.5" y2="365"/>
<line x1="287.5" y1="66" x2="287.5" y2="76"/>
<line x1="340.5" y1="375" x2="340.5" y2="370"/>
<line x1="340.5" y1="66" x2="340.5" y2="71"/>
<line x1="393.5" y1="375" x2="393.5" y2="365"/>
<line x1="393.5" y1="66" x2="393.5" y2="76"/>
<line x1="446.5" y1="375" x2="446.5" y2="370"/>
<line x1="446.5" y1="66" x2="446.5" y2="71"/>
<line x1="499.5" y1="375" x2="499.5" y2="365"/>
<line x1="499.5" y1="66" x2="499.5" y2="76"/>
<line x1="552.5" y1="375" x2="552.5" y2="370"/>
<line x1="552.5" y1="66" x2="552.5" y2="71"/>
<line x1="605.5" y1="375" x2="605.5" y2="365"/>
<line x1="605.5" y1="66" x2="605.5" y2="76"/>
<line x1="66" y1="75.5" x2="76" y2="75.5"/>
<line x1="615" y1="75.5" x2="605" y2="75.5"/>
<line x1="66" y1="104.5" x2="71" y2="104.5"/>
<line x1="615" y1="104.5" x2="610" y2="104.5"/>
<line x1="66" y1="133.5" x2="71" y2="133.5"/>
<line x1="615" y1="133.5" x2="610" y2="133.5"/>
<line x1="66" y1="162.5" x2="71" y2="162.5"/>
<line x1="615" y1="162.5" x2="610" y2="162.5"/>
<line x1="66" y1="191.5" x2="71" y2="191.5"/>
<line x1="615" y1="191.5" x2="610" y2="191.5"/>
<line x1="66" y1="220.5" x2="76" y2="220.5"/>
<line x1="615" y1="220.5" x2="605" y2="220.5"/>
<line x1="66" y1="249.5" x2="71" y2="249.5"/>
<line x1="615" y1="249.5" x2="610" y2="249.5"/>
<line x1="66" y1="278.5" x2="71" y2="278.5"/>
<line x1="615" y1="278.5" x2="610" y2="278.5"/>
<line x1="66" y1="307.5" x2="71" y2="307.5"/>
<line x1="615" y1="307.5" x2="610" y2="307.5"/>
<line x1="66" y1="336.5" x2="71" y2="336.5"/>
<line x1="615" y1="336.5" x2="610" y2="336.5"/>
</g>
<g style="filter:grayscale(1)">
<g font-family="'Liberation Mono', monospace" font-weight="bold" font-size="13.2px" fill="#000">
<text transform="translate(309.6,30) scale(1.2121,1)">T1041-D1</text>
<text transform="translate(219.4,420) scale(1.2090,1)">Percent of Residues (CA)</text>
<text transform="translate(30.5,320.3) rotate(-90) scale(1.2220,1)">Distance Cutoff, A</text>
</g>
<g font-family="'Liberation Sans', sans-serif" font-weight="normal" font-size="14px" fill="#000" stroke="#000" stroke-width="0.45" text-anchor="middle" letter-spacing="0.6">
<text transform="translate(65.3,395) scale(1.12,1)">0</text>
<text transform="translate(180.8,395) scale(1.12,1)">20</text>
<text transform="translate(287.3,395) scale(1.12,1)">40</text>
<text transform="translate(393.3,395) scale(1.12,1)">60</text>
<text transform="translate(499.3,395) scale(1.12,1)">80</text>
<text transform="translate(608.9,395) scale(1.12,1)">100</text>
<text transform="translate(54.5,375.5) rotate(-90) scale(1.12,1)">0</text>
<text transform="translate(54.5,220.5) rotate(-90) scale(1.12,1)">5</text>
<text transform="translate(54.5,65.5) rotate(-90) scale(1.12,1)">10</text>
</g>
</g>
</svg>
</body></html>
